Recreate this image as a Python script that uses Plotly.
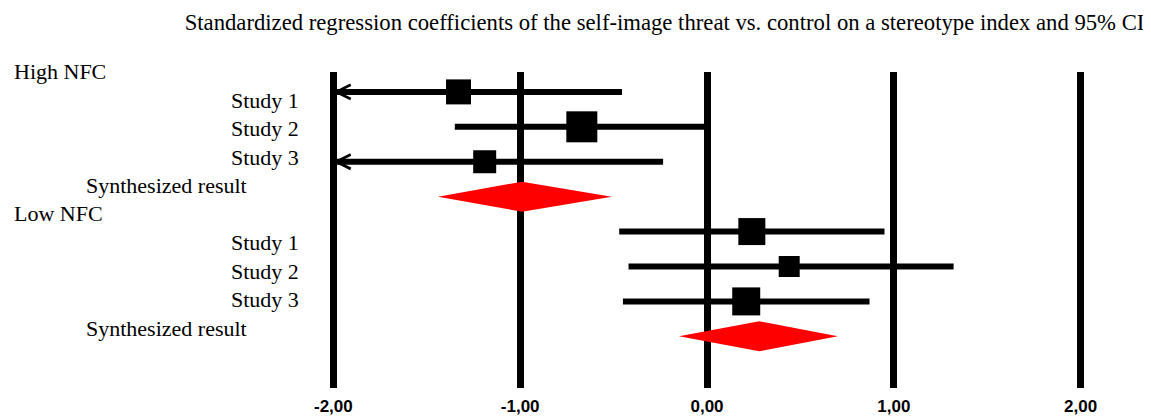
import plotly.graph_objects as go

# ---------------- data ----------------
title_text = ("Standardized regression coefficients of the self-image threat vs. "
              "control on a stereotype index and 95% CI")
groups = ["High NFC", "Low NFC"]
studies = ["Study 1", "Study 2", "Study 3"]
synth_label = "Synthesized result"

# High NFC: estimates, 95% CI limits (lower limits of Study 1 and 3 lie beyond -2 -> arrow)
high_est = [-1.33, -0.67, -1.19]
high_lo = [-2.25, -1.35, -2.25]
high_hi = [-0.455, 0.00, -0.235]
high_weight = [25, 31, 23]          # square marker size (study weight)
high_syn = [-1.44, -0.99, -0.51]    # lower, estimate, upper

# Low NFC
low_est = [0.24, 0.44, 0.21]
low_lo = [-0.47, -0.42, -0.45]
low_hi = [0.95, 1.32, 0.87]
low_weight = [27, 21, 28]
low_syn = [-0.15, 0.28, 0.70]

tick_vals = [-2, -1, 0, 1, 2]
tick_text = ["-2,00", "-1,00", "0,00", "1,00", "2,00"]

# ---------------- layout constants ----------------
OFF = 8                      # default page body margin
W, H = 1151 - OFF, 420 - OFF
ML, MR, MT = 296 - OFF, 33, 72 - OFF
MB = H - (388 - OFF)
X_RANGE = [-2.2, 2.2]
X_CLIP = -2.0
Y_RANGE = [8.48, -0.57]
DIAMOND_HALF = 0.43
SERIF = "Liberation Serif, Times New Roman, serif"

fig = go.Figure()

blocks = [
    (high_est, high_lo, high_hi, high_weight, high_syn, 0),
    (low_est, low_lo, low_hi, low_weight, low_syn, 4),
]

for est, lo, hi, wt, syn, start in blocks:
    rows = [start + i for i in range(len(est))]
    lo_draw = [max(v, X_CLIP) for v in lo]
    fig.add_trace(go.Scatter(
        x=est, y=rows, mode="markers",
        marker=dict(symbol="square", size=wt, color="black", opacity=1,
                    line=dict(width=0)),
        error_x=dict(type="data", symmetric=False,
                     array=[h - e for h, e in zip(hi, est)],
                     arrayminus=[e - l for e, l in zip(est, lo_draw)],
                     color="black", thickness=6, width=0),
        showlegend=False, hoverinfo="x",
    ))
    # arrows for truncated CIs
    for r, l in zip(rows, lo):
        if l < X_CLIP:
            fig.add_annotation(
                x=X_CLIP, y=r, xref="x", yref="y",
                ax=X_CLIP + 0.15, ay=r, axref="x", ayref="y",
                text="", showarrow=True, arrowhead=5, arrowwidth=4,
                arrowsize=0.7, arrowcolor="black", standoff=0,
            )
    # synthesized diamond
    srow = start + len(est)
    s_lo, s_est, s_hi = syn
    fig.add_trace(go.Scatter(
        x=[s_lo, s_est, s_hi, s_est, s_lo],
        y=[srow, srow - DIAMOND_HALF, srow, srow + DIAMOND_HALF, srow],
        mode="lines", fill="toself", fillcolor="#ff0000",
        line=dict(width=0, color="#ff0000"),
        showlegend=False, hoverinfo="skip",
    ))

# ---------------- row labels ----------------
plot_w = W - ML - MR
plot_h = H - MT - MB


def px_x(p):
    return (p - OFF - ML) / plot_w


def px_y(p):
    return 1 - (p - OFF - MT) / plot_h


label_rows = []
for g in groups:
    label_rows.append((g, "group"))
    for s in studies:
        label_rows.append((s, "study"))
    label_rows.append((synth_label, "synth"))

LABEL_TOP = 71.5
LABEL_STEP = 28.5
anchors = {"group": (12, "left"), "study": (301, "right"), "synth": (249, "right")}
for k, (txt, kind) in enumerate(label_rows):
    xp, xa = anchors[kind]
    fig.add_annotation(
        x=px_x(xp), y=px_y(LABEL_TOP + k * LABEL_STEP), xref="paper", yref="paper",
        text=txt, showarrow=False, xanchor=xa, yanchor="middle",
        font=dict(family=SERIF, size=22, color="black"),
    )

fig.update_layout(
    width=W, height=H,
    margin=dict(l=ML, r=MR, t=MT, b=MB, autoexpand=False),
    paper_bgcolor="white", plot_bgcolor="white",
    title=dict(text=title_text, x=(664.5 - OFF) / W, xref="container", xanchor="center",
               y=1 - (22 - OFF) / H, yref="container", yanchor="middle",
               automargin=False,
               font=dict(family=SERIF, size=22.7, color="black")),
    xaxis=dict(range=X_RANGE, tickvals=tick_vals, ticktext=tick_text,
               showgrid=True, gridcolor="black", gridwidth=7,
               zeroline=False, showline=False, ticks="", automargin=False,
               tickfont=dict(family="Liberation Sans, Arial, sans-serif", size=17,
                             color="black", weight="bold"),
               ticklabelstandoff=6, fixedrange=True),
    yaxis=dict(range=Y_RANGE, showgrid=False, zeroline=False, showline=False,
               showticklabels=False, ticks="", fixedrange=True, automargin=False),
)

fig.write_html("out.html")
